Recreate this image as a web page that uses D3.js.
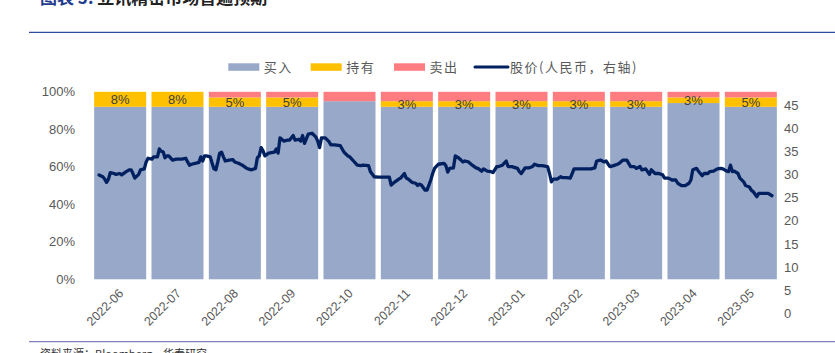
<!DOCTYPE html>
<html><head><meta charset="utf-8">
<script src="https://cdn.jsdelivr.net/npm/d3@7"></script>
<style>
body{margin:0;background:#fff;}
svg{display:block;font-family:"Liberation Sans","Noto Sans CJK SC",sans-serif;}
</style>
</head><body>
<svg id="chart" width="835" height="353"></svg>
<script>
// ---------- data ----------
const months = ["2022-06","2022-07","2022-08","2022-09","2022-10","2022-11","2022-12","2023-01","2023-02","2023-03","2023-04","2023-05"];
const buyPct  = [92,92,92,92,95,92,92,92,92,92,94,92];
const holdPct = [8,8,5,5,0,3,3,3,3,3,3,5];
const sellPct = [0,0,3,3,5,5,5,5,5,5,3,3];
const leftTicks = [0,20,40,60,80,100];
const rightTicks = [0,5,10,15,20,25,30,35,40,45];
const seriesNames = ["买入","持有","卖出","股价(人民币，右轴)"];
const titleLabel = "图表 5:";
const titleText = "立讯精密市场普遍预期";
const sourceText = "资料来源：Bloomberg，华泰研究";

const priceDates = [
"2022-06-05","2022-06-07","2022-06-08","2022-06-09","2022-06-10","2022-06-11","2022-06-13","2022-06-14","2022-06-16","2022-06-17",
"2022-06-19","2022-06-21","2022-06-22","2022-06-23","2022-06-24","2022-06-26","2022-06-27","2022-06-29","2022-06-30","2022-07-01",
"2022-07-03","2022-07-04","2022-07-06","2022-07-07","2022-07-08","2022-07-09","2022-07-10","2022-07-11","2022-07-12","2022-07-14",
"2022-07-16","2022-07-19","2022-07-21","2022-07-22","2022-07-23","2022-07-24","2022-07-26","2022-07-28","2022-07-29","2022-07-30",
"2022-07-31","2022-08-01","2022-08-03","2022-08-04","2022-08-05","2022-08-06","2022-08-07","2022-08-08","2022-08-09","2022-08-10",
"2022-08-11","2022-08-13","2022-08-15","2022-08-16","2022-08-18","2022-08-20","2022-08-22","2022-08-23","2022-08-25","2022-08-27",
"2022-08-28","2022-08-29","2022-08-30","2022-08-31","2022-09-01","2022-09-03","2022-09-06","2022-09-07","2022-09-08","2022-09-09",
"2022-09-11","2022-09-13","2022-09-14","2022-09-16","2022-09-17","2022-09-19","2022-09-20","2022-09-21","2022-09-22","2022-09-24",
"2022-09-26","2022-09-28","2022-09-29","2022-09-30","2022-10-01","2022-10-03","2022-10-05","2022-10-06","2022-10-08","2022-10-11",
"2022-10-13","2022-10-15","2022-10-16","2022-10-18","2022-10-20","2022-10-22","2022-10-23","2022-10-26","2022-10-27","2022-10-29",
"2022-10-31","2022-11-03","2022-11-06","2022-11-07","2022-11-09","2022-11-11","2022-11-12","2022-11-14","2022-11-15","2022-11-16",
"2022-11-18","2022-11-20","2022-11-21","2022-11-22","2022-11-23","2022-11-25","2022-11-26","2022-11-28","2022-11-29","2022-11-30",
"2022-12-02","2022-12-05","2022-12-06","2022-12-07","2022-12-08","2022-12-10","2022-12-11","2022-12-13","2022-12-15","2022-12-16",
"2022-12-18","2022-12-20","2022-12-22","2022-12-23","2022-12-25","2022-12-26","2022-12-28","2022-12-30","2022-12-31","2023-01-02",
"2023-01-03","2023-01-05","2023-01-07","2023-01-08","2023-01-10","2023-01-13","2023-01-14","2023-01-15","2023-01-17","2023-01-19",
"2023-01-21","2023-01-22","2023-01-24","2023-01-26","2023-01-29","2023-01-30","2023-01-31","2023-02-01","2023-02-03","2023-02-05",
"2023-02-06","2023-02-08","2023-02-10","2023-02-11","2023-02-12","2023-02-14","2023-02-18","2023-02-21","2023-02-23","2023-02-24",
"2023-02-26","2023-02-28","2023-03-01","2023-03-03","2023-03-05","2023-03-07","2023-03-08","2023-03-10","2023-03-12","2023-03-14",
"2023-03-16","2023-03-17","2023-03-19","2023-03-20","2023-03-22","2023-03-24","2023-03-25","2023-03-27","2023-03-29","2023-03-31",
"2023-04-01","2023-04-03","2023-04-05","2023-04-07","2023-04-08","2023-04-10","2023-04-12","2023-04-14","2023-04-15","2023-04-16",
"2023-04-18","2023-04-19","2023-04-21","2023-04-22","2023-04-24","2023-04-25","2023-04-27","2023-04-29","2023-05-01","2023-05-02",
"2023-05-04","2023-05-05","2023-05-06","2023-05-07","2023-05-08","2023-05-10","2023-05-11","2023-05-13","2023-05-14","2023-05-16",
"2023-05-17","2023-05-18","2023-05-20","2023-05-21","2023-05-22","2023-05-25","2023-05-26","2023-05-28"];
const priceValues = [
29.9,29.5,29.0,28.3,29.0,30.4,30.2,30.0,30.2,29.9,
30.5,31.0,31.0,30.2,29.2,30.0,31.0,31.2,32.7,33.5,
33.3,33.8,33.8,35.5,35.0,34.9,33.6,34.0,34.0,33.1,
33.3,33.3,33.5,32.7,32.0,32.2,32.4,32.6,33.8,32.9,
34.0,34.0,33.8,32.4,31.2,31.0,32.7,34.6,34.8,33.8,
32.9,33.1,33.2,32.7,32.4,32.0,31.4,31.2,31.0,31.3,
33.6,34.0,35.8,35.1,34.0,34.6,34.8,35.5,34.6,37.9,
37.2,37.4,37.4,38.4,37.4,37.6,37.2,38.4,36.7,38.7,
38.9,38.1,37.2,35.8,37.9,37.9,37.1,36.4,36.4,36.2,
34.8,34.0,33.8,32.9,32.0,31.9,32.0,31.9,30.6,29.5,
29.4,29.4,29.4,27.7,28.4,29.0,29.2,30.2,29.2,29.0,
28.3,28.1,27.6,27.9,27.7,26.6,26.6,28.8,30.2,31.3,
32.2,32.4,31.9,30.5,31.3,31.4,34.0,33.5,32.7,32.9,
32.7,32.0,31.4,31.3,30.7,31.2,30.7,30.6,30.4,31.7,
31.7,32.0,32.9,31.7,31.7,31.3,30.6,30.2,31.4,31.4,
31.7,32.2,31.9,31.9,31.7,30.2,28.4,29.0,29.0,29.5,
29.3,29.3,29.2,30.2,31.2,31.2,31.2,31.2,31.4,32.9,
33.1,32.7,32.9,31.7,31.9,32.2,32.4,33.1,33.1,31.7,
31.7,31.3,31.7,31.0,31.2,30.0,31.0,30.2,30.2,29.9,
29.2,29.2,28.8,28.8,28.1,27.6,27.6,28.1,28.8,31.0,
31.3,30.7,29.7,30.2,30.2,30.6,30.7,31.2,31.3,31.2,
30.7,30.6,32.0,30.6,30.7,30.2,29.2,28.4,27.6,27.3,
26.6,26.3,25.2,25.9,25.9,25.9,25.9,25.4];

// ---------- layout ----------
const colors = {buy:"#97A8C8", hold:"#FFC000", sell:"#FF7C80", line:"#002060"};
const svg = d3.select("#chart");
const plotL = 91.5, plotR = 779.5;

const x = d3.scaleBand().domain(months).range([plotL, plotR]).paddingInner(0.093).paddingOuter(0.0465);
const parse = d3.timeParse("%Y-%m-%d");
const xTime = d3.scaleTime().domain([parse("2022-06-01"), parse("2023-06-01")]).range([plotL, plotR]);
const yL = d3.scaleLinear().domain([0, 100]).range([279.3, 91.8]);
const yR = d3.scaleLinear().domain([0, 45]).range([313.3, 105]);

// title (cut off at top, as in the reference)
const t = svg.append("text").attr("x", 40).attr("y", 4).attr("font-size", 17).attr("font-weight", "bold")
  .attr("font-family", "'Noto Sans CJK SC',sans-serif");
t.append("tspan").attr("fill", "#1F3B8C").text(titleLabel + " ");
t.append("tspan").attr("fill", "#222").text(titleText);

svg.append("line").attr("x1", 29).attr("x2", 835).attr("y1", 32.3).attr("y2", 32.3)
  .attr("stroke", "#2E4C9E").attr("stroke-width", 1.3);
svg.append("line").attr("x1", 29).attr("x2", 835).attr("y1", 341.7).attr("y2", 341.7)
  .attr("stroke", "#8080BB").attr("stroke-width", 1.3);
svg.append("text").attr("x", 40).attr("y", 358).attr("font-size", 11).attr("fill", "#333")
  .attr("font-family", "'Noto Sans CJK SC',sans-serif").text(sourceText);

// stacked bars
const rows = months.map((m, i) => ({m, buy: buyPct[i], hold: holdPct[i], sell: sellPct[i]}));
const stack = d3.stack().keys(["buy", "hold", "sell"])(rows);
const g = svg.append("g");
stack.forEach(layer => {
  g.selectAll(null).data(layer).join("rect")
    .attr("x", d => x(d.data.m))
    .attr("width", x.bandwidth())
    .attr("y", d => yL(d[1]))
    .attr("height", d => yL(d[0]) - yL(d[1]))
    .attr("fill", colors[layer.key]);
});

// hold labels
const holdLayer = stack[1];
g.selectAll(null).data(holdLayer.filter(d => d.data.hold > 0)).join("text")
  .attr("x", d => x(d.data.m) + x.bandwidth() / 2)
  .attr("y", d => (yL(d[0]) + yL(d[1])) / 2)
  .attr("dy", "0.38em")
  .attr("text-anchor", "middle")
  .attr("font-size", 13)
  .attr("fill", "#404040")
  .text(d => d.data.hold + "%");

// price line
const line = d3.line().x(d => xTime(d.date)).y(d => yR(d.v));
const priceData = priceDates.map((s, i) => ({date: parse(s), v: priceValues[i]}));
svg.append("path").datum(priceData).attr("d", line)
  .attr("fill", "none").attr("stroke", colors.line).attr("stroke-width", 3.3)
  .attr("stroke-linejoin", "round").attr("stroke-linecap", "round");

// left axis
const axL = d3.axisLeft(yL).tickValues(leftTicks).tickFormat(d => d + "%").tickSize(0).tickPadding(0);
const gL = svg.append("g").attr("transform", "translate(75,0)").call(axL);
gL.select(".domain").remove();
gL.selectAll("text").attr("font-size", 13).attr("fill", "#595959").attr("font-family", "'Liberation Sans',sans-serif");

// right axis
const axR = d3.axisRight(yR).tickValues(rightTicks).tickSize(0).tickPadding(0);
const gR = svg.append("g").attr("transform", "translate(784,0)").call(axR);
gR.select(".domain").remove();
gR.selectAll("text").attr("font-size", 13).attr("fill", "#595959").attr("font-family", "'Liberation Sans',sans-serif");

// x axis labels
const gX = svg.append("g");
gX.selectAll(null).data(months).join("text")
  .attr("transform", d => `translate(${x(d) + x.bandwidth() / 2 + 1},${291}) rotate(-45)`)
  .attr("text-anchor", "end")
  .attr("dy", "0.35em")
  .attr("font-size", 12.5)
  .attr("fill", "#595959")
  .text(d => d);

// legend
const legend = svg.append("g").attr("font-family", "'Noto Sans CJK SC',sans-serif");
const legItems = [
  {name: seriesNames[0], type: "rect", color: colors.buy, x: 228.3},
  {name: seriesNames[1], type: "rect", color: colors.hold, x: 310.7},
  {name: seriesNames[2], type: "rect", color: colors.sell, x: 394},
  {name: seriesNames[3], type: "line", color: colors.line, x: 475}
];
legItems.forEach(it => {
  if (it.type === "rect") {
    legend.append("rect").attr("x", it.x).attr("y", 63.3).attr("width", 31).attr("height", 7.5).attr("fill", it.color);
  } else {
    legend.append("line").attr("x1", it.x).attr("x2", it.x + 33).attr("y1", 67).attr("y2", 67)
      .attr("stroke", it.color).attr("stroke-width", 3).attr("stroke-linecap", "round");
  }
  legend.append("text").attr("x", it.x + (it.type === "rect" ? 35.5 : 35)).attr("y", 67).attr("dy", "0.35em")
    .attr("font-size", 13).attr("letter-spacing", 1.5).attr("fill", "#595959").text(it.name);
});
</script>
</body></html>
